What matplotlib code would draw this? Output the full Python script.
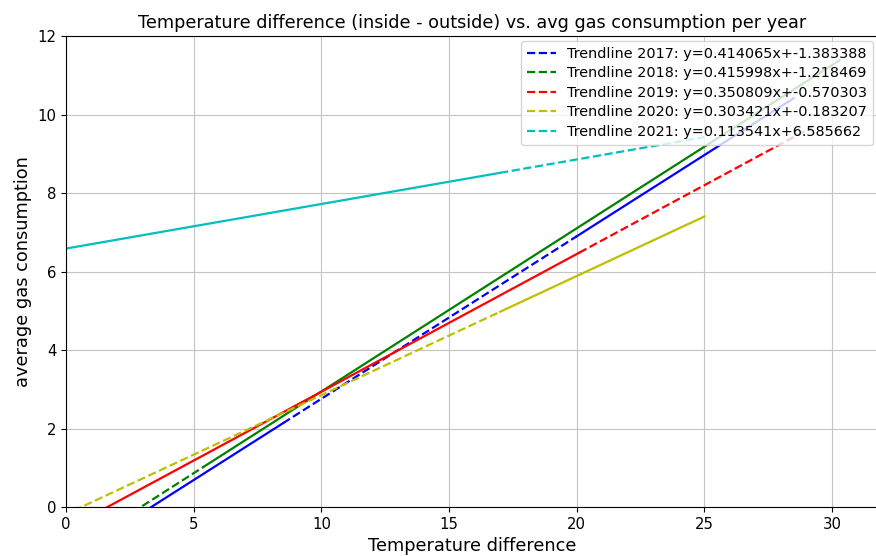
import numpy as np
import matplotlib.pyplot as plt
from matplotlib.lines import Line2D

# trendline coefficients, as printed in the legend
years = [2017, 2018, 2019, 2020, 2021]
slopes = [0.414065, 0.415998, 0.350809, 0.303421, 0.113541]
intercepts = [-1.383388, -1.218469, -0.570303, -0.183207, 6.585662]

# x positions where each trendline starts, switches look, and ends
x_breaks = [
    [3.0, 8.5, 20.0, 28.5],
    [2.6, 5.4, 30.3],
    [1.3, 20.1, 29.3],
    [0.3, 17.0, 25.0],
    [0.0, 17.0, 25.0],
]

colors = ["b", "g", "r", "y", "c"]
starts_dashed = [False, True, False, True, False]

plt.rcParams["font.size"] = 10.7

fig = plt.figure(figsize=(8.76, 5.56), dpi=100)
ax = fig.add_axes([0.0753, 0.0881, 0.927, 0.847])

handles = []
for i, year in enumerate(years):
    a, b = slopes[i], intercepts[i]
    br = x_breaks[i]
    for j in range(len(br) - 1):
        xs = np.array([br[j], br[j + 1]])
        dashed = starts_dashed[i] if j % 2 == 0 else not starts_dashed[i]
        ax.plot(xs, a * xs + b, color=colors[i], lw=1.6,
                linestyle="--" if dashed else "-")
    handles.append(Line2D([], [], color=colors[i], lw=1.6, linestyle="--",
                          label=f"Trendline {year}: y={a:.6f}x+{b:.6f}"))

ax.set_xlim(0, 31.8)
ax.set_ylim(0, 12)
ax.set_xticks([0, 5, 10, 15, 20, 25, 30])
ax.set_yticks([0, 2, 4, 6, 8, 10, 12])
ax.grid(True, color="#c4c4c4", lw=0.8)
ax.set_title("Temperature difference (inside - outside) vs. avg gas consumption per year",
             fontsize=12.7)
ax.set_xlabel("Temperature difference", fontsize=12.8)
ax.set_ylabel("average gas consumption", fontsize=12.8)
ax.legend(handles=handles, loc="upper right", fontsize=10.4,
          labelspacing=0.38, borderaxespad=0.35)

fig.savefig("out.png", dpi=100)
